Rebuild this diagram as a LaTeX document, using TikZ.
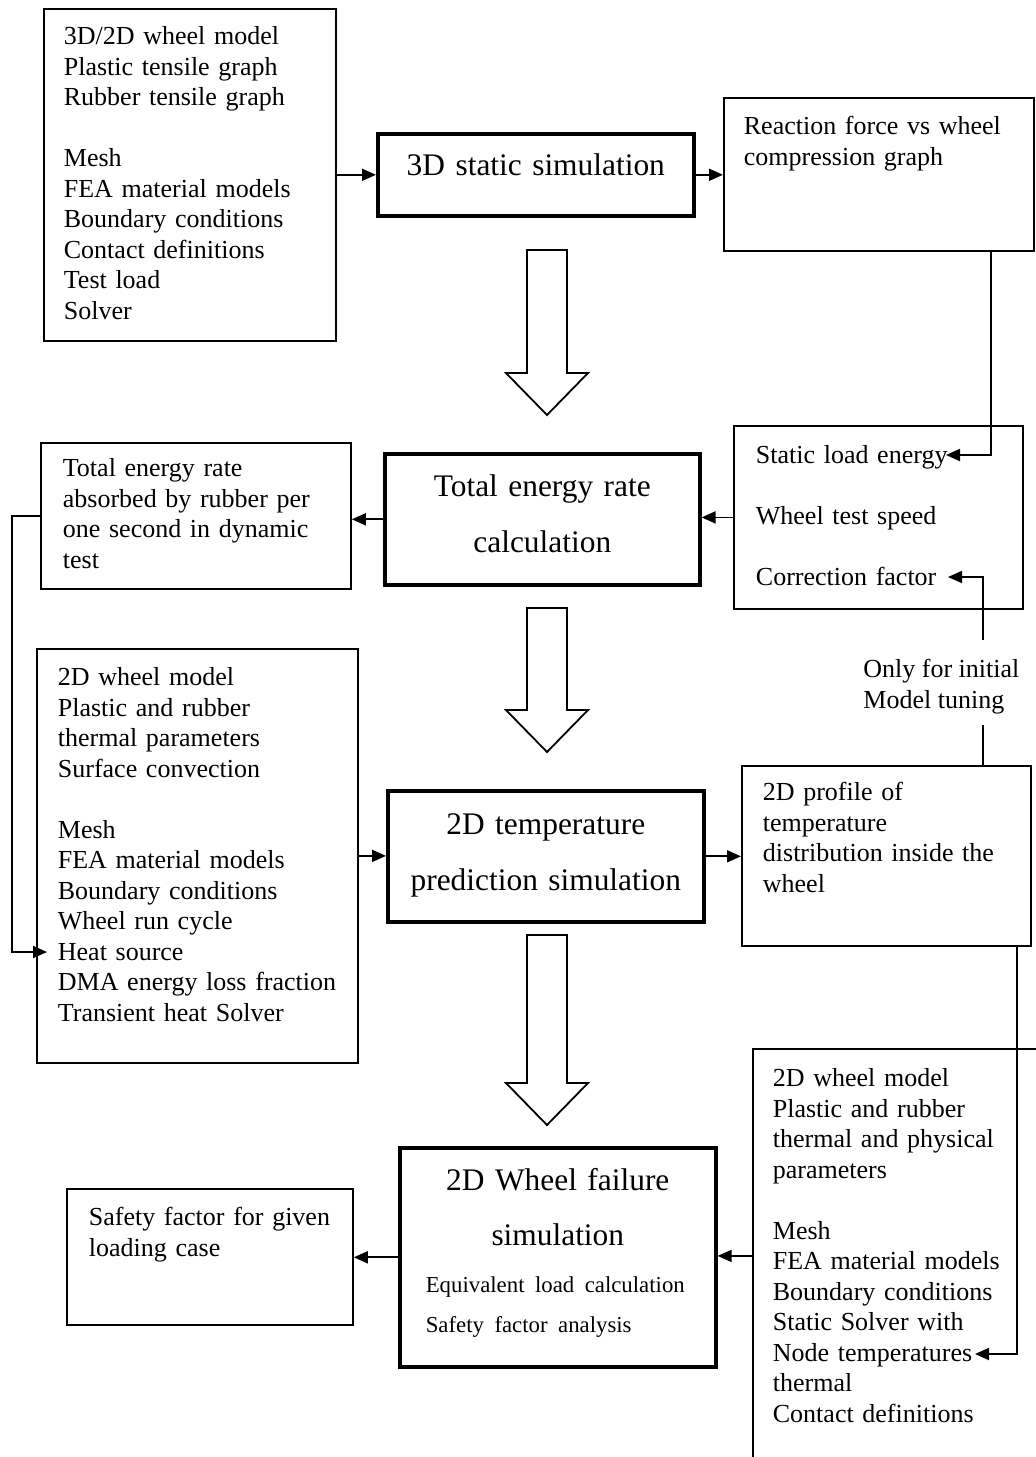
\documentclass[tikz,border=0pt]{standalone}
\usepackage{fontspec}
\setmainfont{Liberation Serif}
\usetikzlibrary{arrows.meta}

\begin{document}
\begin{tikzpicture}[
    x=0.5pt, y=-0.5pt,
    frame/.style={draw, line width=0.9pt, anchor=north west, inner xsep=10pt,
                  inner ysep=0pt, font=\fontsize{13}{15.25}\selectfont},
    box/.style={frame, align=left},
    simbox/.style={frame, line width=1.8pt, inner xsep=5pt, align=center,
                   font=\fontsize{15.7}{28}\selectfont},
    note/.style={anchor=north west, inner sep=0pt, align=left,
                 font=\fontsize{13}{15.25}\selectfont},
    conn/.style={-{Triangle[length=7pt,width=6pt]}, line width=0.9pt},
    hollow/.style={draw, line width=0.9pt, fill=white}
  ]
  \useasboundingbox (0,0) rectangle (1036,1457);
  \clip (0,0) rectangle (1036,1457);
  % Inputs of the 3D model
  \node[box, minimum width=146pt, text width=126pt, text height=18pt, text depth=148pt]
    (inputs3d) at (43,8)
    {3D/2D wheel model\\Plastic tensile graph\\Rubber tensile graph\\[15.25pt]Mesh\\FEA material models\\Boundary conditions\\Contact definitions\\Test load\\Solver};
  % 3D static simulation
  \node[simbox, minimum width=158pt, text width=148pt, text height=21pt, text depth=20pt]
    (sim3d) at (376,132) {3D static simulation};
  % Reaction force graph
  \node[box, minimum width=155pt, text width=135pt, text height=18.5pt, text depth=58pt]
    (reaction) at (723,97) {Reaction force vs wheel\\compression graph};
  % Energy inputs
  \node[box, minimum width=144.5pt, inner xsep=11pt, text width=122.5pt, text height=19pt,
        text depth=72.5pt, font=\fontsize{13}{30.5}\selectfont]
    (energyin) at (733,425) {Static load energy\\Wheel test speed\\Correction factor};
  % Total energy rate calculation
  \node[simbox, minimum width=157.5pt, text width=147.5pt, text height=21.25pt, text depth=44.25pt]
    (energycalc) at (383,452) {Total energy rate\\calculation};
  % Energy result
  \node[box, minimum width=155pt, inner xsep=11pt, text width=133pt, text height=17pt, text depth=56pt]
    (energyres) at (40,442) {Total energy rate\\absorbed by rubber per\\one second in dynamic\\test};
  % Inputs of the thermal model
  \node[box, minimum width=160.5pt, inner xsep=10.5pt, text width=139.5pt, text height=18.5pt,
        text depth=188.5pt]
    (tempin) at (36,648)
    {2D wheel model\\Plastic and rubber\\thermal parameters\\Surface convection\\[15.25pt]Mesh\\FEA material models\\Boundary conditions\\Wheel run cycle\\Heat source\\DMA energy loss fraction\\Transient heat Solver};
  % 2D temperature prediction
  \node[simbox, minimum width=158pt, text width=148pt, text height=21.75pt, text depth=43.75pt]
    (tempsim) at (386,789) {2D temperature\\prediction simulation};
  % Temperature profile
  \node[box, minimum width=144.5pt, inner xsep=10.5pt, text width=123.5pt, text height=17.5pt,
        text depth=72.5pt]
    (profile) at (741,765) {2D profile of\\temperature\\distribution inside the\\wheel};
  % Tuning note
  \node[note] (tune) at (863,659) {Only for initial\\Model tuning};
  % Inputs of the failure model
  \node[box, minimum width=149pt, text width=129pt, text height=19pt, text depth=188pt]
    (fem2d) at (752,1048)
    {2D wheel model\\Plastic and rubber\\thermal and physical\\parameters\\[15.25pt]Mesh\\FEA material models\\Boundary conditions\\Static Solver with\\Node temperatures\\thermal\\Contact definitions};
  % 2D wheel failure simulation
  \node[frame, line width=1.8pt, inner xsep=13pt, text width=132pt, text height=21.25pt,
        text depth=88.25pt, font=\fontsize{15.7}{27.5}\selectfont]
    (failsim) at (398,1146)
    {\centering 2D Wheel failure\\simulation\par\vspace{3.75pt}
     \raggedright\fontsize{11.4}{20}\selectfont Equivalent load calculation\\Safety factor analysis\par};
  % Safety factor
  \node[box, minimum width=143pt, inner xsep=11pt, text width=121pt, text height=18.5pt, text depth=49.5pt]
    (safety) at (66,1188) {Safety factor for given\\loading case};
  % Free ends
  \coordinate (staticend) at (946,455);
  \coordinate (corrend) at (948,577);
  \coordinate (tunetop) at (983,640);
  \coordinate (tunebot) at (983,725);
  \coordinate (heatin) at (47,952);
  \coordinate (nodeend) at (975,1354);
  % Block arrows
  \foreach \top/\tip in {250/415, 608/752, 935/1125}
    \draw[hollow] (527,\top) -- (567,\top) -- (567,\tip-42) -- (588,\tip-42) -- (547,\tip)
      -- (506,\tip-42) -- (527,\tip-42) -- cycle;
  % Arrows
  \draw[conn] (sim3d.west -| inputs3d.east) -- (sim3d.west);
  \draw[conn] (sim3d.east) -- (sim3d.east -| reaction.west);
  \draw[conn] ([xshift=-22pt]reaction.south east) |- (staticend);
  \draw[conn] (energyin.west) -- (energyin.west -| energycalc.east);
  \draw[conn] (energycalc.west) -- (energycalc.west -| energyres.east);
  \draw[conn] (energyres.west) -- ++(-28,0) |- (heatin);
  \draw[conn] (tunetop) |- (corrend);
  \draw[line width=0.9pt] (tunebot) -- (tunebot |- profile.north);
  \draw[conn] (tempin.east) -- (tempin.east -| tempsim.west);
  \draw[conn] (tempsim.east) -- (tempsim.east -| profile.west);
  \draw[conn] ([xshift=-7.5pt]profile.south east) |- (nodeend);
  \draw[conn] (fem2d.west) -- (fem2d.west -| failsim.east);
  \draw[conn] (failsim.west) -- (failsim.west -| safety.east);
\end{tikzpicture}
\end{document}
